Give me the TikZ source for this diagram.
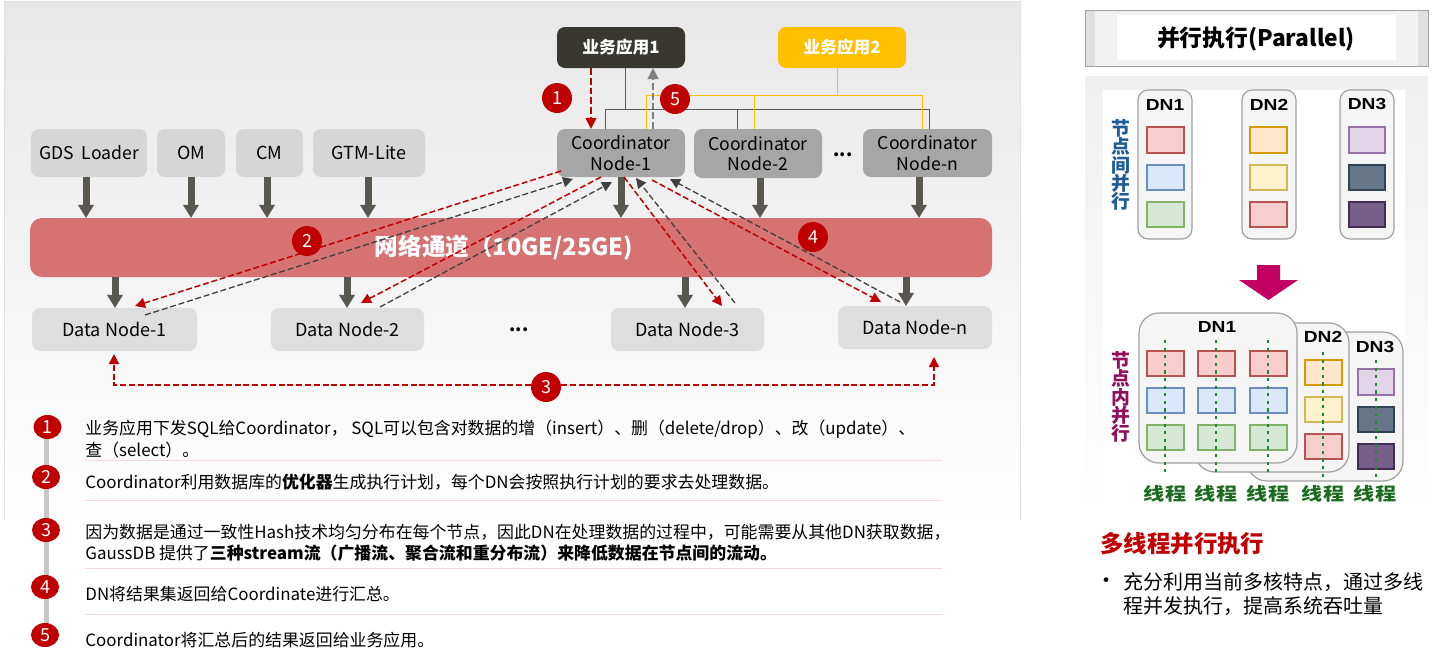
\documentclass[tikz,border=0pt]{standalone}
\usepackage{fontspec}
\setmainfont{Noto Sans CJK SC}
\newfontfamily\dnfont{Liberation Sans}
\usetikzlibrary{arrows.meta,calc,shapes.geometric}
\newcommand{\fs}[1]{\fontsize{#1}{#1}\selectfont}
\newcommand{\fsl}[2]{\fontsize{#1}{#2}\selectfont}
\newcommand{\dnl}[1]{\scalebox{1.2}[1]{#1}}
\definecolor{arrowgrey}{HTML}{585850}
\definecolor{hwred}{HTML}{C00000}
\definecolor{band}{HTML}{D77272}
\definecolor{rulepink}{HTML}{FBD9D9}
\definecolor{F5F5F5}{HTML}{F5F5F5}\definecolor{A0A0A0}{HTML}{A0A0A0}
\definecolor{F8CECC}{HTML}{F8CECC}\definecolor{B85450}{HTML}{B85450}
\definecolor{DAE8FC}{HTML}{DAE8FC}\definecolor{6C8EBF}{HTML}{6C8EBF}
\definecolor{D5E8D4}{HTML}{D5E8D4}\definecolor{82B366}{HTML}{82B366}
\definecolor{FFE6CC}{HTML}{FFE6CC}\definecolor{D79B00}{HTML}{D79B00}
\definecolor{FFF2CC}{HTML}{FFF2CC}\definecolor{D6B656}{HTML}{D6B656}
\definecolor{E1D5E7}{HTML}{E1D5E7}\definecolor{9673A6}{HTML}{9673A6}
\definecolor{647687}{HTML}{647687}\definecolor{314354}{HTML}{314354}
\definecolor{76608A}{HTML}{76608A}\definecolor{432D57}{HTML}{432D57}
\definecolor{1E8A2E}{HTML}{1E8A2E}\definecolor{1B6B1F}{HTML}{1B6B1F}
\definecolor{D6D6D6}{HTML}{D6D6D6}\definecolor{A6A6A6}{HTML}{A6A6A6}
\definecolor{DEDEDE}{HTML}{DEDEDE}\definecolor{383830}{HTML}{383830}
\definecolor{FFC000}{HTML}{FFC000}\definecolor{E8E8E8}{HTML}{E8E8E8}
\definecolor{F0F0F0}{HTML}{F0F0F0}\definecolor{E0E0E0}{HTML}{E0E0E0}
\definecolor{C40062}{HTML}{C40062}\definecolor{1F5C96}{HTML}{1F5C96}
\definecolor{90105F}{HTML}{90105F}\definecolor{F2F2F2}{HTML}{F2F2F2}
\definecolor{linegrey}{HTML}{5A5A5A}\definecolor{lineyellow}{HTML}{FFC000}
\tikzset{
  x=0.5pt,y=-0.5pt,
  pbox/.style={rounded corners=4pt,inner sep=0pt,outer sep=0pt,align=center},
  topbox/.style={pbox,fill=#1},
  topbox/.default={D6D6D6},
  fat/.style={arrowgrey,line width=3.5pt,-{Triangle[width=7.6pt,length=6.6pt]}},
  reddash/.style={hwred,line width=0.75pt,dash pattern=on 3pt off 1.4pt,-{Triangle[width=5pt,length=5pt]}},
  blackdash/.style={black!75,line width=0.65pt,dash pattern=on 3pt off 1.4pt,-{Triangle[width=5pt,length=5pt]}},
  badge/.style={circle,fill=hwred,text=white,minimum size=15pt,inner sep=0pt,outer sep=0pt,font=\fs{9}},
  listbadge/.style={ellipse,fill=hwred,text=white,minimum width=14pt,minimum height=12pt,inner sep=0pt,font=\fs{9}},
  listtext/.style={anchor=west,inner sep=0pt,align=left,font=\fs{8.45}},
  pinkrule/.style={rulepink,line width=0.5pt},
  dnlabel/.style={inner sep=0pt,font=\dnfont\bfseries\fs{8}},
  dngroup/.style={fill=F5F5F5,draw=A0A0A0,line width=0.6pt,rounded corners=#1},
  sred/.style={fill=F8CECC,draw=B85450,line width=0.6pt},
  sblue/.style={fill=DAE8FC,draw=6C8EBF,line width=0.6pt},
  sgreen/.style={fill=D5E8D4,draw=82B366,line width=0.6pt},
  sorange/.style={fill=FFE6CC,draw=D79B00,line width=0.6pt},
  syellow/.style={fill=FFF2CC,draw=D6B656,line width=0.6pt},
  spurple/.style={fill=E1D5E7,draw=9673A6,line width=0.6pt},
  sslate/.style={fill=647687,draw=314354,line width=0.6pt},
  sdark/.style={fill=76608A,draw=432D57,line width=0.6pt},
  thread/.style={draw=1E8A2E,line width=1pt,dash pattern=on 1.6pt off 2.2pt},
  threadlabel/.style={inner sep=0pt,text=1B6B1F,font=\bfseries\fs{8.8}},
}
% \pxnode{style}{name}{x1}{y1}{x2}{y2}{text}
\newcommand{\pxnode}[7]{%
  \pgfmathsetmacro{\pxw}{(#5-#3)*0.5}\pgfmathsetmacro{\pxh}{(#6-#4)*0.5}%
  \pgfmathsetmacro{\pxx}{(#3+#5)/2}\pgfmathsetmacro{\pxy}{(#4+#6)/2}%
  \node[#1,minimum width=\pxw pt,minimum height=\pxh pt] (#2) at (\pxx,\pxy) {#7};}
\newcommand{\sq}[5]{\draw[#1] (#2,#3) rectangle (#4,#5);}
\begin{document}
\begin{tikzpicture}
\useasboundingbox (0,0) rectangle (1440,654);
\fill[white] (0,0) rectangle (1440,654);
% left panel
\shade[top color=E8E8E8,bottom color=white] (4,1) rectangle (1020,525);
\draw[E0E0E0,line width=0.4pt] (4,520) -- (4,1) -- (1020,1) -- (1020,520);
% right panels
\shade[top color=F0F0F0,bottom color=white] (1085,76) rectangle (1428,515);
\fill[white] (1103,90) rectangle (1405,505);
\fill[F2F2F2] (1085,10) rectangle (1428,66);
\fill[E0E0E0] (1085,10) rectangle (1095,66);
\fill[E0E0E0] (1418,10) rectangle (1428,66);
\draw[A0A0A0,line width=0.5pt] (1085,10) rectangle (1428,66);
\fill[white] (1117,15) rectangle (1396,60);
\node[inner sep=0pt,font=\bfseries\fs{11.4}] (title) at (1256,39) {并行执行(Parallel)};
% applications
\pxnode{topbox=383830,text=white,font=\bfseries\fs{8.4}}{appa}{557}{27}{685}{68}{业务应用1}
\pxnode{topbox=FFC000,text=white,font=\bfseries\fs{8.4}}{appb}{778}{27}{906}{68}{业务应用2}
% upper boxes
\pxnode{topbox,font=\fs{8.8}}{gds}{31}{129}{147}{177}{GDS\ \ Loader}
\pxnode{topbox,font=\fs{9}}{om}{157}{129}{225}{177}{OM}
\pxnode{topbox,font=\fs{9}}{cm}{236}{129}{303}{177}{CM}
\pxnode{topbox,font=\fs{9}}{gtm}{313}{129}{425}{177}{GTM-Lite}
\pxnode{topbox=A6A6A6,font=\fsl{8.8}{10.2}}{ca}{557}{129}{685}{177}{Coordinator\\Node-1}
\pxnode{topbox=A6A6A6,font=\fsl{8.8}{10.2}}{cb}{694}{129}{822}{178}{Coordinator\\Node-2}
\pxnode{topbox=A6A6A6,font=\fsl{8.8}{10.2}}{cn}{863}{129}{992}{177}{Coordinator\\Node-n}
\node[inner sep=0pt,font=\bfseries\fs{9}] (dotsa) at (843,155) {...};
% band
\pxnode{pbox,fill=band,rounded corners=6pt,text=white,font=\bfseries\fs{11.8}}{net}{30}{218}{992}{277}{\raisebox{-1pt}{网络通道（10GE/25GE)}\hspace{7pt}}
% data nodes
\pxnode{topbox=DEDEDE,font=\fs{9}}{da}{32}{308}{197}{351}{Data Node-1}
\pxnode{topbox=DEDEDE,font=\fs{9}}{db}{271}{308}{424}{351}{Data Node-2}
\pxnode{topbox=DEDEDE,font=\fs{9}}{dc}{611}{308}{764}{351}{Data Node-3}
\pxnode{topbox=DEDEDE,font=\fs{9}}{dn}{838}{306}{992}{349}{Data Node-n}
\node[inner sep=0pt,font=\bfseries\fs{9}] (dotsb) at (519,330) {...};
% app connectors
\draw[linegrey,line width=0.55pt] (appa.south -| 625.5,0) -- (625.5,109.5);
\draw[linegrey,line width=0.55pt] (ca.north -| 605.5,0) -- (605.5,109.5) -- (929.5,109.5) -- (cn.north -| 929.5,0);
\draw[linegrey,line width=0.55pt] (737.5,109.5) -- (cb.north -| 737.5,0);
\draw[lineyellow,line width=0.7pt] (appb.south -| 837.5,0) -- (837.5,95.5);
\draw[lineyellow,line width=0.7pt] (ca.north -| 646.5,0) -- (646.5,95.5) -- (922.5,95.5) -- (cn.north -| 922.5,0);
\draw[lineyellow,line width=0.7pt] (754.5,95.5) -- (cb.north -| 754.5,0);
\draw[hwred,line width=1pt,dash pattern=on 3.4pt off 1.5pt,-{Triangle[width=5.4pt,length=5.6pt]}] (appa.south -| 591,0) -- (ca.north -| 591,0);
\draw[gray,line width=1.3pt,dash pattern=on 3.4pt off 1.5pt,-{Triangle[width=5.4pt,length=5.6pt]}] (ca.north -| 653,0) -- (appa.south -| 653,0);
% fat arrows
\draw[fat] (gds.south -| 86,0) -- (net.north -| 86,0);
\draw[fat] (om.south -| 191,0) -- (net.north -| 191,0);
\draw[fat] (cm.south -| 267,0) -- (net.north -| 267,0);
\draw[fat] (gtm.south -| 368,0) -- (net.north -| 368,0);
\draw[fat] (ca.south -| 621,0) -- (net.north -| 621,0);
\draw[fat] (cb.south -| 760,0) -- (net.north -| 760,0);
\draw[fat] (cn.south -| 919,0) -- (net.north -| 919,0);
\draw[fat] (net.south -| 115,0) -- (da.north -| 115,0);
\draw[fat] (net.south -| 347,0) -- (db.north -| 347,0);
\draw[fat] (net.south -| 685,0) -- (dc.north -| 685,0);
\draw[fat] (net.south -| 906,0) -- (dn.north -| 906,0);
% message arrows
\draw[reddash] ([shift={(4,-6)}]ca.south west) -- ([shift={(103,-2)}]da.north west);
\draw[blackdash] ([shift={(113,7)}]da.north west) -- ([shift={(16,2)}]ca.south west);
\draw[reddash] ([shift={(44,0)}]ca.south west) -- ([shift={(90,-5)}]db.north west);
\draw[blackdash] ([shift={(109,-1)}]db.north west) -- ([shift={(55,5)}]ca.south west);
\draw[reddash] ([shift={(67,0)}]ca.south west) -- ([shift={(111,-2)}]dc.north west);
\draw[blackdash] ([shift={(124,-5)}]dc.north west) -- ([shift={(79,1)}]ca.south west);
\draw[reddash] ([shift={(95,3)}]ca.south west) -- ([shift={(43,-4)}]dn.north west);
\draw[blackdash] ([shift={(62,-4)}]dn.north west) -- ([shift={(113,2)}]ca.south west);
% badges
\node[badge] (ba) at (557,98) {1};
\node[badge] (be) at (675,99) {5};
\node[badge] (bb) at (307,241) {2};
\node[badge] (bd) at (813,237) {4};
\node[badge] (bc) at (546,387) {3};
\draw[reddash] (bc.west |- 0,385) -| ([yshift=-1.5pt]da.south -| 114,0);
\draw[reddash] (bc.east |- 0,385) -| (934,357);
% list
\draw[line width=2.5pt,draw=black!22] (46.5,427) -- (46.5,635);
\node[listbadge] (la) at (47.5,427) {1};
\node[listbadge] (lb) at (46,477) {2};
\node[listbadge] (lc) at (46,530) {3};
\node[listbadge] (ld) at (45,587) {4};
\node[listbadge] (le) at (45,635) {5};
\node[listtext] (ta) at (85,429) {业务应用下发SQL给Coordinator， SQL可以包含对数据的增（insert）、删（delete/drop）、改（update）、};
\node[listtext] (tab) at (85,450) {查（select）。};
\node[listtext] (tb) at (85,482) {Coordinator利用数据库的\textbf{优化器}生成执行计划，每个DN会按照执行计划的要求去处理数据。};
\node[listtext] (tc) at (85,532) {因为数据是通过一致性Hash技术均匀分布在每个节点，因此DN在处理数据的过程中，可能需要从其他DN获取数据，};
\node[listtext] (tcb) at (85,553) {GaussDB 提供了\textbf{三种stream流（广播流、聚合流和重分布流）来降低数据在节点间的流动。}};
\node[listtext] (td) at (85,594) {DN将结果集返回给Coordinate进行汇总。};
\node[listtext] (te) at (85,640) {Coordinator将汇总后的结果返回给业务应用。};
\foreach \y in {460,500,568,614} \draw[pinkrule] (85,\y) -- (942,\y);
% parallel, upper
\foreach \a in {1138,1242,1340}{
  \draw[dngroup=5pt] (\a,90) rectangle ({\a+54},239);
}
\node[dnlabel] (ua) at (1165,105) {\dnl{DN1}};
\node[dnlabel] (ub) at (1269,105) {\dnl{DN2}};
\node[dnlabel] (uc) at (1367,104) {\dnl{DN3}};
\sq{sred}{1147}{127}{1184}{153}\sq{sblue}{1147}{165}{1184}{190}\sq{sgreen}{1147}{202}{1184}{227}
\sq{sorange}{1250}{127}{1287}{153}\sq{syellow}{1250}{165}{1287}{190}\sq{sred}{1250}{202}{1287}{227}
\sq{spurple}{1349}{127}{1385}{153}\sq{sslate}{1349}{165}{1385}{190}\sq{sdark}{1349}{202}{1385}{227}
\node[inner sep=0pt,align=center,text=1F5C96,font=\bfseries\fsl{9.4}{9.1}] (vtop) at (1121,165) {节\\点\\间\\并\\行};
\fill[C40062] (1257,265) -- (1280,265) -- (1280,280) -- (1298,280) -- (1268.5,300) -- (1239,280) -- (1257,280) -- cycle;
% parallel, lower
\draw[dngroup=10pt] (1247,332) rectangle (1403,481);
\draw[dngroup=10pt] (1195,323) rectangle (1349,472);
\draw[dngroup=10pt] (1139,313) rectangle (1297,463);
\node[dnlabel] (la1) at (1217,327) {\dnl{DN1}};
\node[dnlabel] (la2) at (1323,337) {\dnl{DN2}};
\node[dnlabel] (la3) at (1375,347) {\dnl{DN3}};
\foreach \a in {1147,1198,1250}{
  \sq{sred}{\a}{351}{\a+37}{376}\sq{sblue}{\a}{388}{\a+37}{413}\sq{sgreen}{\a}{425}{\a+37}{450}
}
\sq{sorange}{1305}{360}{1342}{385}\sq{syellow}{1305}{397}{1342}{422}\sq{sred}{1305}{434}{1342}{459}
\sq{spurple}{1358}{369}{1394}{395}\sq{sslate}{1358}{407}{1394}{432}\sq{sdark}{1358}{444}{1394}{469}
\draw[thread] (1165,340) -- (1165,475);
\draw[thread] (1216,340) -- (1216,475);
\draw[thread] (1268,340) -- (1268,475);
\draw[thread] (1323,352) -- (1323,481);
\draw[thread] (1376,360) -- (1376,481);
\node[inner sep=0pt,align=center,text=90105F,font=\bfseries\fsl{9.4}{9.1}] (vlow) at (1121,397) {节\\点\\内\\并\\行};
\node[threadlabel] (tha) at (1165,494) {\dnl{线程}};
\node[threadlabel] (thb) at (1216,494) {\dnl{线程}};
\node[threadlabel] (thc) at (1268,494) {\dnl{线程}};
\node[threadlabel] (thd) at (1323,494) {\dnl{线程}};
\node[threadlabel] (the) at (1375,494) {\dnl{线程}};
% summary
\node[anchor=west,inner sep=0pt,text=hwred,font=\bfseries\fs{11.7}] (sum) at (1100,544) {多线程并行执行};
\node[anchor=west,inner sep=0pt,font=\fs{11}] (bul) at (1095,583) {•};
\node[anchor=west,inner sep=0pt,font=\fs{10}] (suma) at (1123,582) {充分利用当前多核特点，通过多线};
\node[anchor=west,inner sep=0pt,font=\fs{10}] (sumb) at (1123,606) {程并发执行，提高系统吞吐量};
\end{tikzpicture}
\end{document}
